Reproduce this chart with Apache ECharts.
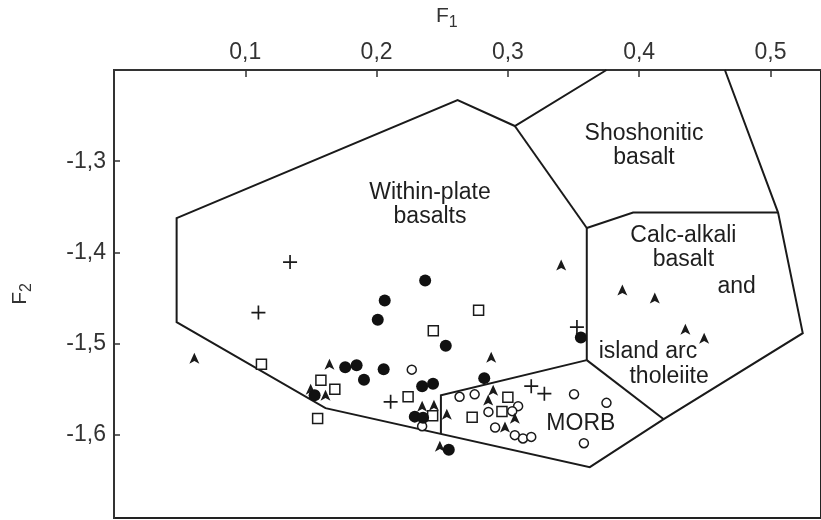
<!DOCTYPE html>
<html>
<head>
<meta charset="utf-8">
<script src="https://cdn.jsdelivr.net/npm/echarts@6/dist/echarts.min.js"></script>
<style>html,body{margin:0;padding:0;background:#fff}#c{width:821px;height:520px}</style>
</head>
<body>
<div id="c"></div>
<script>
// ---- axis ranges ----
const xMin = 0, xMax = 0.5385, xStep = 0.1;
const yMin = -1.691, yMax = -1.2;

// ---- field boundaries (F1, F2) ----
const outerBoundary = [[0.3751,-1.2],[0.3053,-1.2614],[0.2617,-1.2329],[0.0477,-1.3623],[0.0477,-1.4763],[0.1611,-1.5706],[0.3624,-1.6353],[0.4187,-1.5827],[0.5246,-1.4884],[0.5058,-1.3563],[0.4653,-1.2]];
const shoshoniticLower = [[0.3053,-1.2614],[0.3601,-1.3732]];
const calcAlkaliTop = [[0.3601,-1.3732],[0.3954,-1.3563],[0.5058,-1.3563]];
const calcAlkaliLeft = [[0.3601,-1.3732],[0.3601,-1.5180]];
const morbTop = [[0.3601,-1.5180],[0.2490,-1.5564],[0.2490,-1.5988]];
const calcAlkaliLower = [[0.3601,-1.5180],[0.4187,-1.5827]];

// ---- samples ----
const plusPts = [[0.1341,-1.4105],[0.1100,-1.4659],[0.2107,-1.5637],[0.3178,-1.5465],[0.3278,-1.5547],[0.3526,-1.4818]];
const filledCirclePts = [[0.2370,-1.4308],[0.2062,-1.4527],[0.2009,-1.4736],[0.2527,-1.5021],[0.1761,-1.5257],[0.1848,-1.5235],[0.1904,-1.5394],[0.2054,-1.5279],[0.2347,-1.5465],[0.2430,-1.5438],[0.2291,-1.5799],[0.2354,-1.5810],[0.2550,-1.6161],[0.2820,-1.5377],[0.3556,-1.4933],[0.1528,-1.5564]];
const openCirclePts = [[0.2268,-1.5284],[0.2347,-1.5904],[0.2632,-1.5582],[0.2747,-1.5555],[0.2852,-1.5747],[0.3078,-1.5684],[0.3033,-1.5739],[0.2903,-1.5918],[0.3053,-1.6002],[0.3115,-1.6038],[0.3178,-1.6021],[0.3504,-1.5553],[0.3751,-1.5648],[0.3579,-1.6090]];
const openSquarePts = [[0.1123,-1.5224],[0.1576,-1.5399],[0.1682,-1.5498],[0.1551,-1.5819],[0.2432,-1.4859],[0.2777,-1.4632],[0.2240,-1.5580],[0.2427,-1.5788],[0.2728,-1.5805],[0.3000,-1.5586],[0.2955,-1.5744]];
const trianglePts = [[0.0612,-1.5158],[0.1641,-1.5224],[0.1498,-1.5498],[0.1611,-1.5564],[0.2347,-1.5684],[0.2437,-1.5673],[0.2535,-1.5772],[0.2482,-1.6123],[0.2873,-1.5147],[0.2888,-1.5509],[0.2850,-1.5618],[0.2978,-1.5914],[0.3053,-1.5816],[0.3406,-1.4138],[0.3872,-1.4412],[0.4119,-1.4500],[0.4352,-1.4840],[0.4495,-1.4939]];

// ---- field names ----
const fieldNames = ['Within-plate\nbasalts','Shoshonitic\nbasalt','Calc-alkali\nbasalt','and','island arc','tholeiite','MORB'];
const fieldAnchors = [[0.2407,-1.3480],[0.4037,-1.2828],[0.4337,-1.3952],[0.4743,-1.4379],[0.4067,-1.5092],[0.4228,-1.5366],[0.3556,-1.5871]];

const FONT = '"Liberation Sans", Arial, sans-serif';
const fmt = v => v.toFixed(1).replace('.', ',');
const INK = '#1a1a1a';

const chart = echarts.init(document.getElementById('c'), null, {renderer: 'canvas'});
const marker = (name, data, symbol, size, style, z) => ({
  name, type: 'scatter', data, symbol, symbolSize: size, z: z || 4,
  itemStyle: Object.assign({opacity: 1}, style), emphasis: {disabled: true}, silent: true
});
const subRich = {
  a: {fontFamily: FONT, fontSize: 21, lineHeight: 30, color: '#333', fontWeight: 'normal'},
  b: {fontFamily: FONT, fontSize: 16, lineHeight: 14, verticalAlign: 'bottom', color: '#333', fontWeight: 'normal'}
};

chart.setOption({
  animation: false,
  backgroundColor: '#fff',
  title: {
    text: '{a|F}{b|1}', left: 436, top: 1, padding: 0,
    textStyle: {fontWeight: 'normal', rich: subRich}
  },
  grid: {left: 114, top: 70, right: -10, bottom: 2, show: true, borderColor: '#222', borderWidth: 2, backgroundColor: 'transparent'},
  xAxis: {
    type: 'value', position: 'top', min: xMin, max: xMax, interval: xStep,
    axisLine: {show: true, lineStyle: {color: '#333', width: 2}},
    axisTick: {show: true, inside: true, length: 7, lineStyle: {color: '#333', width: 1.5}},
    axisLabel: {fontFamily: FONT, fontSize: 23, color: '#333', margin: 6, formatter: fmt, showMinLabel: false, showMaxLabel: false},
    splitLine: {show: false}
  },
  yAxis: {
    type: 'value', min: yMin, max: yMax, splitNumber: 5,
    name: '{a|F}{b|2}', nameLocation: 'middle', nameRotate: 90, nameGap: 79,
    nameTextStyle: {rich: subRich},
    axisLine: {show: true, lineStyle: {color: '#333', width: 2}},
    axisTick: {show: true, inside: true, length: 6, lineStyle: {color: '#333', width: 1.5}},
    axisLabel: {fontFamily: FONT, fontSize: 23, color: '#333', margin: 8, formatter: fmt, showMinLabel: false, showMaxLabel: false},
    splitLine: {show: false}
  },
  series: [
    {
      type: 'lines', coordinateSystem: 'cartesian2d', polyline: true, silent: true, z: 2,
      lineStyle: {color: INK, width: 2, opacity: 1, curveness: 0},
      data: [outerBoundary, shoshoniticLower, calcAlkaliTop, calcAlkaliLeft, morbTop, calcAlkaliLower].map(c => ({coords: c}))
    },
    {
      type: 'scatter', silent: true, z: 3, symbolSize: 0.1, itemStyle: {color: 'rgba(255,255,255,0)', opacity: 1},
      data: fieldAnchors.map((p, i) => ({value: p, name: fieldNames[i]})),
      label: {show: true, position: 'inside', opacity: 1, formatter: p => p.name, fontFamily: FONT, fontSize: 23, lineHeight: 24, color: '#1e1e1e', align: 'center', verticalAlign: 'middle'}
    },
    marker('open circle', openCirclePts, 'circle', 9, {color: '#fff', borderColor: INK, borderWidth: 1.5}),
    marker('open square', openSquarePts, 'rect', 10, {color: '#fff', borderColor: INK, borderWidth: 1.5}),
    marker('plus', plusPts, 'path://M0,4.4H10V5.6H0Z M4.4,0H5.6V10H4.4Z', 14, {color: INK}),
    marker('triangle', trianglePts, 'path://M5,0L10,10L5,7.6L0,10Z', [10, 11], {color: INK}, 5),
    marker('filled circle', filledCirclePts, 'circle', 12, {color: '#111'}, 5)
  ]
});
</script>
</body>
</html>
